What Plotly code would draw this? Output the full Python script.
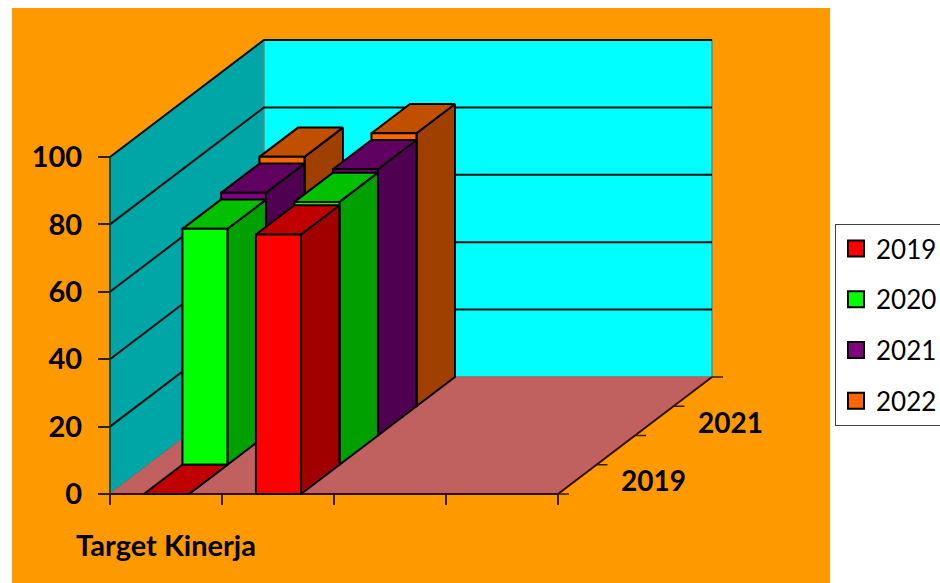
import plotly.graph_objects as go

categories = ["Target Kinerja", "", "", ""]
series_names = ["2019", "2020", "2021", "2022"]
values_2019 = [0, 77, None, None]
values_2020 = [70, 78, None, None]
values_2021 = [72, 79, None, None]
values_2022 = [74, 81, None, None]
value_ticks = [0, 20, 40, 60, 80, 100]
depth_labels = ["2019", "", "2021", ""]

series_values = [values_2019, values_2020, values_2021, values_2022]
front_colors = ["#FF0000", "#00FF00", "#800080", "#FF6600"]
top_colors = ["#C00000", "#00C000", "#600060", "#C05000"]
side_colors = ["#A00000", "#00A000", "#500050", "#A04000"]

W, H = 940, 583
PX0, PY0 = 110.0, 494.0   # pixel of the front-left floor corner
CAT_PX, VAL_PX = 112.0, 3.37
ROW_DX, ROW_DY = 38.5, 29.25
BAR_LO, BAR_HI = 0.303, 0.705
N_C, N_D, V_MAX = len(categories), len(series_names), 100

ORANGE, WALL, SIDE_WALL, FLOOR = "#FF9900", "#00FFFF", "#00A5A5", "#C0605F"


def P(c, d, v):
    """Oblique projection: category c, depth row d, value v -> axis coordinates."""
    return c + d * ROW_DX / CAT_PX, v + d * ROW_DY / VAL_PX


def poly(pts, fill, line="#000000", width=2, name=""):
    xy = [P(*p) for p in pts] + [P(*pts[0])]
    return go.Scatter(x=[a for a, _ in xy], y=[b for _, b in xy], mode="lines", fill="toself",
                      fillcolor=fill, line=dict(color=line, width=width),
                      hoverinfo="skip", showlegend=False, name=name)


def path(pts, color="#000000", width=2):
    xy = [P(*p) for p in pts]
    return go.Scatter(x=[a for a, _ in xy], y=[b for _, b in xy], mode="lines",
                      line=dict(color=color, width=width), hoverinfo="skip", showlegend=False)


fig = go.Figure()

# walls and floor
fig.add_trace(poly([(0, 0, 0), (0, N_D, 0), (0, N_D, V_MAX), (0, 0, V_MAX)], SIDE_WALL, "#3F6F6F", 1.5))
fig.add_trace(poly([(0, N_D, 0), (N_C, N_D, 0), (N_C, N_D, V_MAX), (0, N_D, V_MAX)], WALL, "#5F8F8F", 1.5))
fig.add_trace(poly([(0, 0, 0), (N_C, 0, 0), (N_C, N_D, 0), (0, N_D, 0)], FLOOR, FLOOR, 1))
for v in value_ticks[1:]:
    fig.add_trace(path([(0, 0, v), (0, N_D, v), (N_C, N_D, v)], "#101010", 2))
fig.add_trace(path([(0, 0, 0), (N_C, 0, 0), (N_C, N_D, 0)], "#301010", 2))
fig.add_trace(path([(0, 0, 0), (0, 0, V_MAX)], "#303030", 1.5))

# bars, back row first
for d in range(N_D - 1, -1, -1):
    for c in range(N_C):
        v = series_values[d][c]
        if v is None:
            continue
        a, b = c + BAR_LO, c + BAR_HI
        fig.add_trace(poly([(b, d, 0), (b, d + 1, 0), (b, d + 1, v), (b, d, v)], side_colors[d]))
        fig.add_trace(poly([(a, d, v), (b, d, v), (b, d + 1, v), (a, d + 1, v)], top_colors[d]))
        fig.add_trace(poly([(a, d, 0), (b, d, 0), (b, d, v), (a, d, v)], front_colors[d]))

# legend entries
for name, col in zip(series_names, front_colors):
    fig.add_trace(go.Scatter(x=[None], y=[None], mode="markers", name=name, legendgroup=name,
                             marker=dict(symbol="square", size=16, color=col,
                                         line=dict(color="#000000", width=2))))

# depth axis ticks and labels
for d in range(N_D + 1):
    x, y = P(N_C, d, 0)
    fig.add_shape(type="line", xref="x", yref="y", x0=x, y0=y, x1=x + 11 / CAT_PX, y1=y,
                  line=dict(color="#302010", width=1.5))
for d, lab in enumerate(depth_labels):
    if lab:
        x, y = P(N_C, d + 0.5, 0)
        fig.add_annotation(x=x, y=y, xref="x", yref="y", text=lab, showarrow=False,
                           xanchor="center", yanchor="middle", xshift=76, yshift=-1,
                           font=dict(family="Lato", size=28, color="#000000", weight="bold"))

# orange chart area
fig.add_shape(type="rect", xref="paper", yref="paper", layer="below",
              x0=12 / W, x1=830 / W, y0=0, y1=1 - 8 / H, fillcolor=ORANGE, line_width=0)

fig.update_layout(
    width=W, height=H,
    margin=dict(l=0, r=0, t=0, b=0, autoexpand=False),
    paper_bgcolor="#FFFFFF", plot_bgcolor="rgba(0,0,0,0)",
    hovermode=False,
    legend=dict(x=835 / W, y=1 - 224 / H, xanchor="left", yanchor="top",
                bgcolor="#FFFFFF", bordercolor="#404040", borderwidth=1,
                font=dict(family="Lato", size=26, color="#000000"),
                tracegroupgap=14, itemsizing="trace"),
    xaxis=dict(range=[-PX0 / CAT_PX, (W - PX0) / CAT_PX], anchor="free", position=(H - PY0) / H,
               showgrid=False, zeroline=False, showline=False, fixedrange=True,
               tickmode="array", tickvals=[i + 0.5 for i in range(N_C)], ticktext=categories,
               ticks="", ticklabelstandoff=32,
               tickfont=dict(family="Lato", size=29, color="#000000", weight="bold"),
               minor=dict(tickmode="array", tickvals=list(range(N_C + 1)), ticks="outside",
                          ticklen=10, tickcolor="#302010", tickwidth=1.5)),
    yaxis=dict(range=[(PY0 - H) / VAL_PX, PY0 / VAL_PX], anchor="free", position=PX0 / W,
               showgrid=False, zeroline=False, showline=False, fixedrange=True,
               tickmode="array", tickvals=value_ticks, ticks="outside", ticklen=12,
               tickcolor="#302010", tickwidth=1.5, ticklabelstandoff=10,
               tickfont=dict(family="Lato", size=29, color="#000000", weight="bold")),
)

fig.write_html("out.html", config=dict(displayModeBar=False),
               post_script="document.body.style.margin='0';document.documentElement.style.overflow='hidden';")
